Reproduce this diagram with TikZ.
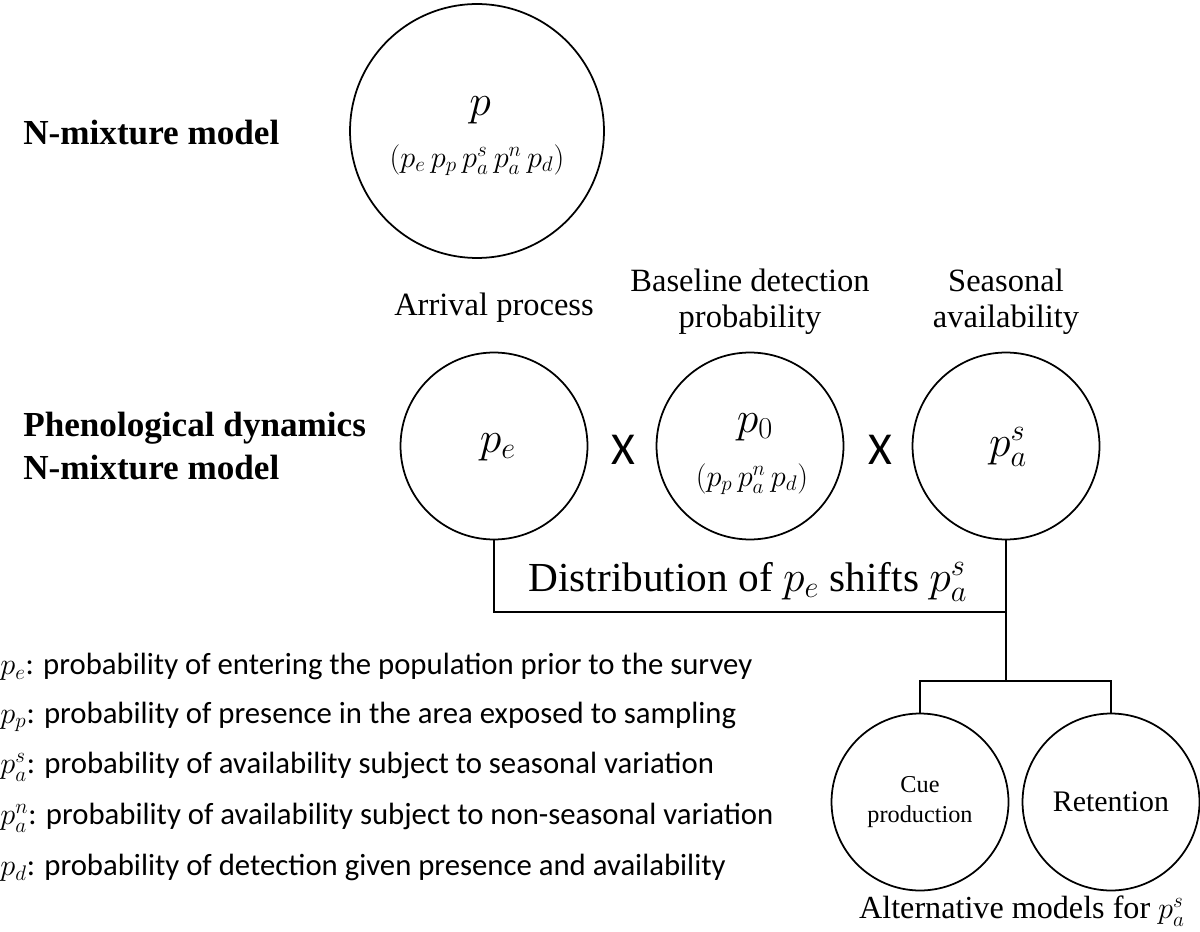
\documentclass[tikz,border=0pt]{standalone}
\usepackage{amsmath}
\usepackage{fontspec}
\setmainfont{Liberation Serif}
\newfontfamily\calibri{Carlito}

\begin{document}
\begin{tikzpicture}[
    x=0.02cm, y=-0.02cm,
    every node/.style={inner sep=0pt},
    bigbubble/.style={circle, draw, line width=1pt, minimum size=5.08cm},
    bubble/.style={circle, draw, line width=1pt, minimum size=3.74cm},
    smallbubble/.style={circle, draw, line width=1pt, minimum size=3.54cm, align=center},
    rowtitle/.style={anchor=west, align=left, font=\fontsize{20}{25}\selectfont\bfseries},
    heading/.style={align=center, font=\fontsize{18.5}{20.5}\selectfont},
    symbol/.style={font=\fontsize{24}{24}\selectfont},
    subsymbol/.style={font=\fontsize{17.5}{18}\selectfont},
    times/.style={font=\fontsize{26}{26}\selectfont\calibri},
    legend/.style={anchor=west, font=\fontsize{17.5}{21}\selectfont\calibri},
    link/.style={line width=1.1pt}
]
\useasboundingbox (0,0) rectangle (1200,932);

% Row titles
\node[rowtitle] (nmix) at (23,133) {N-mixture model};
\node[rowtitle] (phen) at (23,446) {Phenological dynamics\\N-mixture model};

% Circles
\node[bigbubble] (p) at (477,131) {};
\node[symbol] (ptxt) at (480,110) {$p$};
\node[subsymbol] (pprod) at (477,160) {$(p_e\,p_p\,p_a^s\,p_a^n\,p_d)$};
\node[bubble] (pe) at (494,446) {};
\node[symbol] (petxt) at (498,447) {$p_e$};
\node[bubble] (p0) at (750,446) {};
\node[symbol] (p0txt) at (755,427) {$p_0$};
\node[subsymbol] (p0prod) at (752,479) {$(p_p\,p_a^n\,p_d)$};
\node[bubble] (pas) at (1006,446) {};
\node[symbol] (pastxt) at (1008,447) {$p_a^s$};
\node[smallbubble, font=\fontsize{13.8}{17}\selectfont] (cue) at (920,802) {Cue\\production};
\node[smallbubble, font=\fontsize{17}{17}\selectfont] (ret) at (1111,802) {Retention};

% Headings
\node[heading] (arr) at (494,308) {Arrival process};
\node[heading] (base) at (750,302) {Baseline detection\\probability};
\node[heading] (seas) at (1006,302) {Seasonal\\availability};
\node[times] (x1) at (623,450) {X};
\node[times] (x2) at (880,450) {X};

% Links
\coordinate (join) at (1006,612);
\coordinate (fork) at (1006,681);
\draw[link] (pe.south) |- (join);
\draw[link] (pas.south) -- (fork);
\draw[link] (cue.north) |- (fork) -| (ret.north);
\node[font=\fontsize{23.5}{26}\selectfont] (shift) at (748,582) {Distribution of $p_e$ shifts $p_a^s$};
\node[font=\fontsize{18.3}{20}\selectfont] (alt) at (1022,911) {Alternative models for $p_a^s$};

% Legend
\node[legend] (lpe) at (0,667) {$p_e$: probability of entering the population prior to the survey};
\node[legend] (lpp) at (0,717) {$p_p$: probability of presence in the area exposed to sampling};
\node[legend] (lpas) at (0,767) {$p_a^s$: probability of availability subject to seasonal variation};
\node[legend] (lpan) at (0,818) {$p_a^n$: probability of availability subject to non-seasonal variation};
\node[legend] (lpd) at (0,868) {$p_d$: probability of detection given presence and availability};

\end{tikzpicture}
\end{document}
